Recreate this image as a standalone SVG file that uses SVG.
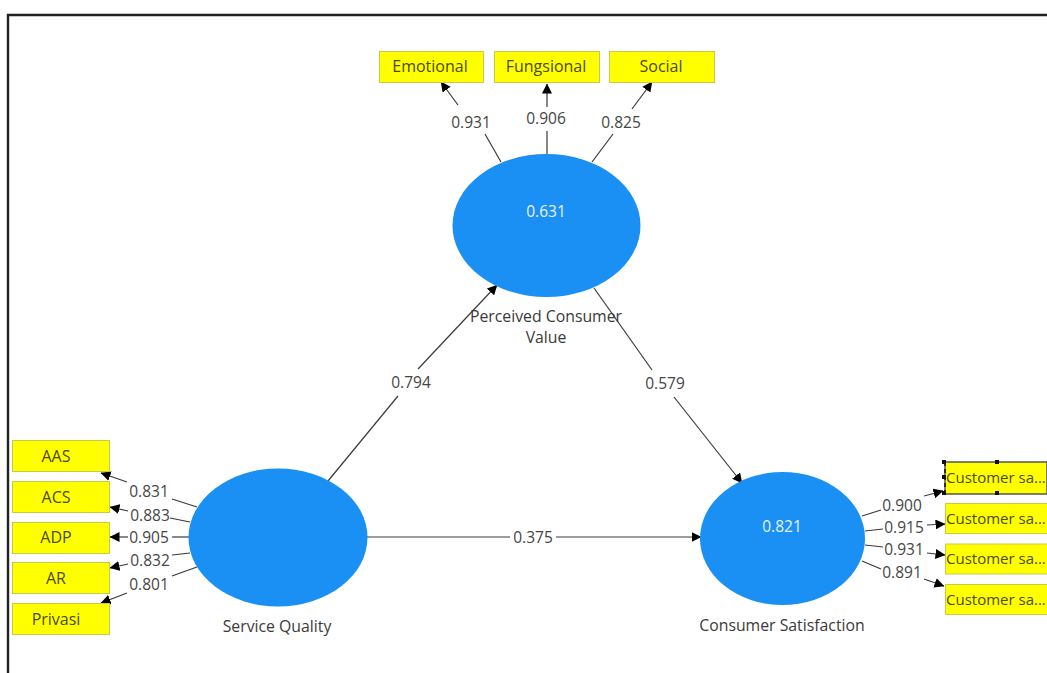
<svg xmlns="http://www.w3.org/2000/svg" width="1047" height="673" viewBox="0 0 1047 673">
<style>
text{font-family:"Open Sans","Noto Sans","DejaVu Sans",sans-serif;font-size:15.8px;text-anchor:middle;fill:#3a3a3a}
.i{fill:#ffff00;stroke:#c9c94a;stroke-width:1}
.c{fill:#1a90f5}
.v{fill:#e8f2fb;font-size:15.5px}
.l{fill:#454545;font-size:15.5px}
.t{fill:#4a4a00;font-size:16px}
.s{font-size:15px}
.e{stroke:#3a3a3a;stroke-width:1.2;fill:none}
.b{fill:#111}
</style>
<defs>
<marker id="a" viewBox="0 0 10 10" refX="9.5" refY="5" markerWidth="10" markerHeight="10" markerUnits="userSpaceOnUse" orient="auto"><path d="M0 0L10 5L0 10Z" fill="#000"/></marker>
</defs>
<rect width="1047" height="673" fill="#fff"/>
<path d="M8 673V15H1047" fill="none" stroke="#222" stroke-width="2.4"/>
<g id="connectors" class="e">
<path d="M501 162L485 134"/><path d="M458 105L441 82" marker-end="url(#a)"/>
<path d="M547 154V131"/><path d="M547 107V84" marker-end="url(#a)"/>
<path d="M592 162L613 134"/><path d="M632 109L652 82" marker-end="url(#a)"/>
<path d="M328 481L398 396"/><path d="M418 369L497 285" marker-end="url(#a)"/>
<path d="M594 288L652 370"/><path d="M674 397L742 483" marker-end="url(#a)"/>
<path d="M367 537H510"/><path d="M556 537H701" marker-end="url(#a)"/>
<path d="M197 507L172 499"/><path d="M127 482L101 473" marker-end="url(#a)"/>
<path d="M190 522L170 518"/><path d="M128 511L110 507" marker-end="url(#a)"/>
<path d="M189 537H172"/><path d="M128 537H110" marker-end="url(#a)"/>
<path d="M190 553L172 555"/><path d="M128 564L110 568" marker-end="url(#a)"/>
<path d="M197 567L172 576"/><path d="M127 593L101 603" marker-end="url(#a)"/>
<path d="M862 516L881 510"/><path d="M924 496L943 491" marker-end="url(#a)"/>
<path d="M865 531L883 529"/><path d="M927 525L945 524" marker-end="url(#a)"/>
<path d="M865 545L883 547"/><path d="M927 553L945 555" marker-end="url(#a)"/>
<path d="M862 561L881 569"/><path d="M924 579L944 586" marker-end="url(#a)"/>
</g>
<g id="n-emotional"><rect class="i" x="379.500" y="51.500" width="104" height="31"/><text class="t" x="430" y="72">Emotional</text></g>
<g id="n-fungsional"><rect class="i" x="494.500" y="51.500" width="105" height="31"/><text class="t" x="546" y="72">Fungsional</text></g>
<g id="n-social"><rect class="i" x="609.500" y="51.500" width="105" height="31"/><text class="t" x="661" y="72">Social</text></g>
<g id="n-pcv"><ellipse class="c" cx="546.500" cy="225.500" rx="94" ry="71.500"/><text class="v" x="546" y="217">0.631</text><text x="546" y="322">Perceived Consumer</text><text x="546" y="343">Value</text></g>
<g id="n-sq"><ellipse class="c" cx="278" cy="537.500" rx="89.500" ry="69"/><text x="277" y="632">Service Quality</text></g>
<g id="n-cs"><ellipse class="c" cx="782.500" cy="538.500" rx="82.500" ry="66.500"/><text class="v" x="782" y="532">0.821</text><text x="782" y="631">Consumer Satisfaction</text></g>
<g id="n-aas"><rect class="i" x="12.500" y="440.500" width="97" height="31"/><text class="t" x="56" y="462">AAS</text></g>
<g id="n-acs"><rect class="i" x="12.500" y="481.500" width="97" height="31"/><text class="t" x="56" y="503">ACS</text></g>
<g id="n-adp"><rect class="i" x="12.500" y="522.500" width="97" height="31"/><text class="t" x="56" y="543">ADP</text></g>
<g id="n-ar"><rect class="i" x="12.500" y="562.500" width="97" height="31"/><text class="t" x="56" y="584">AR</text></g>
<g id="n-privasi"><rect class="i" x="12.500" y="603.500" width="97" height="31"/><text class="t" x="56" y="625">Privasi</text></g>
<g id="n-cs1"><rect class="i" x="945" y="462" width="102" height="32" style="stroke:#555;stroke-width:1.5"/><path d="M945 462V494" stroke="#111" stroke-dasharray="4 3" stroke-width="1.5"/><rect class="b" x="942" y="460" width="4" height="4"/><rect class="b" x="995" y="460" width="4" height="4"/><rect class="b" x="942" y="475" width="4" height="4"/><rect class="b" x="942" y="491" width="4" height="4"/><rect class="b" x="995" y="491" width="4" height="4"/><text class="t s" x="946" y="483" style="text-anchor:start">Customer sa...</text></g>
<g id="n-cs2"><rect class="i" x="945.500" y="503.500" width="102" height="30"/><text class="t s" x="946" y="524" style="text-anchor:start">Customer sa...</text></g>
<g id="n-cs3"><rect class="i" x="945.500" y="544" width="102" height="30"/><text class="t s" x="946" y="564" style="text-anchor:start">Customer sa...</text></g>
<g id="n-cs4"><rect class="i" x="945.500" y="584.500" width="102" height="30"/><text class="t s" x="946" y="605" style="text-anchor:start">Customer sa...</text></g>
<g id="labels">
<text class="l" x="471" y="128">0.931</text><text class="l" x="546" y="124">0.906</text><text class="l" x="621" y="128">0.825</text>
<text class="l" x="411" y="388">0.794</text><text class="l" x="665" y="389">0.579</text><text class="l" x="533" y="543">0.375</text>
<text class="l" x="149" y="497">0.831</text><text class="l" x="150" y="521">0.883</text><text class="l" x="149" y="543">0.905</text><text class="l" x="150" y="566">0.832</text><text class="l" x="149" y="590">0.801</text>
<text class="l" x="902" y="511">0.900</text><text class="l" x="904" y="533">0.915</text><text class="l" x="904" y="555">0.931</text><text class="l" x="902" y="578">0.891</text>
</g>
</svg>
